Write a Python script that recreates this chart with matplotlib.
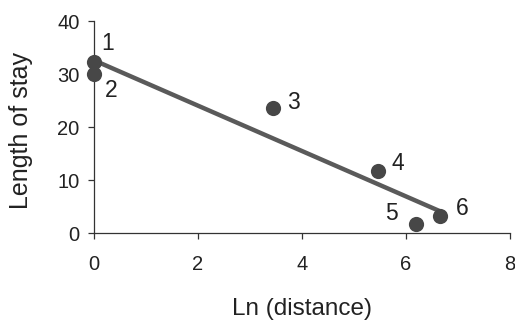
import matplotlib
matplotlib.use("Agg")
import matplotlib.pyplot as plt
import numpy as np

plt.rcParams['font.family'] = ['Liberation Sans', 'DejaVu Sans']

# data
point_ids = ["1", "2", "3", "4", "5", "6"]
ln_distance = [0.0, 0.0, 3.44, 5.46, 6.19, 6.65]
length_of_stay = [32.3, 30.0, 23.6, 11.7, 1.7, 3.2]
# label offsets in pixels (dx, dy)
label_offsets = [(14, 18), (17, -16), (21, 5), (20, 8), (-24, 11), (22, 8)]

x_ticks = [0, 2, 4, 6, 8]
y_ticks = [0, 10, 20, 30, 40]

fig = plt.figure(figsize=(5.15, 3.23), dpi=100)
ax = fig.add_axes([0.1825, 0.2786, 0.808, 0.656])

# regression line
slope, intercept = np.polyfit(ln_distance, length_of_stay, 1)
xs = np.array([min(ln_distance), max(ln_distance)])
ax.plot(xs, intercept + slope * xs, color="#5a5a5a", lw=3.2,
        solid_capstyle="round", zorder=2, clip_on=False)

ax.scatter(ln_distance, length_of_stay, s=120, color="#474747",
           zorder=3, clip_on=False, linewidths=0)

for lab, x, y, (dx, dy) in zip(point_ids, ln_distance, length_of_stay, label_offsets):
    ax.annotate(lab, (x, y), xytext=(dx * 0.72, dy * 0.72),
                textcoords="offset points", ha="center", va="center",
                fontsize=16.5, color="#222222")

ax.set_xlim(0, 8)
ax.set_ylim(0, 40)
ax.set_xticks(x_ticks)
ax.set_yticks(y_ticks)
for side in ["top", "right"]:
    ax.spines[side].set_visible(False)
for side in ["left", "bottom"]:
    ax.spines[side].set_color("#333333")
    ax.spines[side].set_linewidth(0.9)
ax.tick_params(axis="both", direction="out", length=4.5, width=0.9,
               color="#333333", labelsize=14.5, labelcolor="#222222")
ax.tick_params(axis="y", pad=6)
ax.tick_params(axis="x", pad=11)

ax.set_xlabel("Ln (distance)", fontsize=17.5, color="#222222")
ax.set_ylabel("Length of stay", fontsize=18, color="#222222")
ax.xaxis.set_label_coords(0.5, -0.305)
ax.yaxis.set_label_coords(-0.147, 0.486)

fig.savefig("out.png", dpi=100)
